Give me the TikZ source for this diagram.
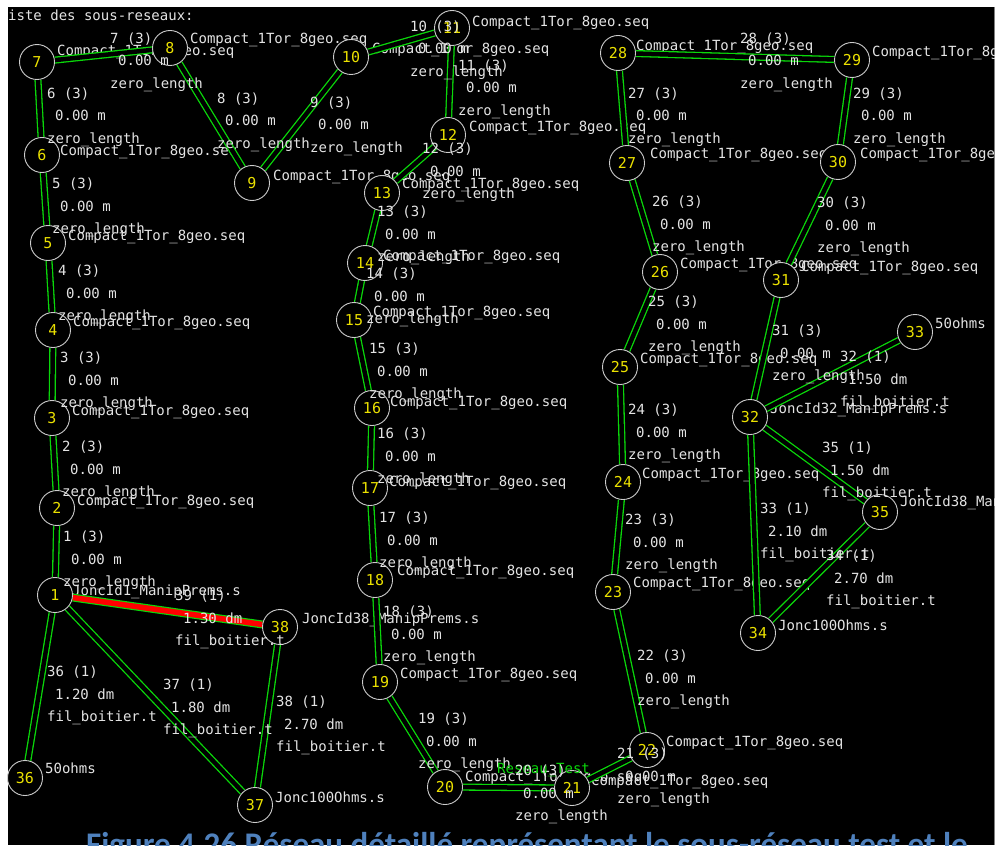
\documentclass[tikz,border=0pt]{standalone}
\usepackage{fontspec}
\usetikzlibrary{calc}
\newfontfamily\monof{DejaVu Sans Mono}
\newfontfamily\capf{Carlito}
\definecolor{wg}{RGB}{10,215,10}
\definecolor{labgray}{RGB}{228,228,228}
\definecolor{nodegray}{RGB}{205,205,205}
\definecolor{nodeyellow}{RGB}{235,225,0}
\definecolor{capblue}{RGB}{79,129,189}
\pgfdeclarelayer{bg}
\pgfdeclarelayer{nlab}
\pgfdeclarelayer{wires}
\pgfsetlayers{bg,nlab,wires,main}
\newcommand{\cseq}{Compact\_1Tor\_8geo.seq}
\newcommand{\elab}[6]{%
  \node[lab] (#1a) at (#2,#3) {#4};
  \node[lab] (#1b) at ($(#2,#3)+(8,22.5)$) {#5};
  \node[lab] (#1c) at ($(#2,#3)+(0,45)$) {#6};}
\newcommand{\ezl}[4]{\elab{#1}{#2}{#3}{#4 (3)}{0.00 m}{zero\_length}}
\newcommand{\efb}[5]{\elab{#1}{#2}{#3}{#4 (1)}{#5 dm}{fil\_boitier.t}}
\begin{document}
\begin{tikzpicture}[x=1pt,y=-1pt,
  nd/.style={circle, draw=nodegray, line width=0.9pt, fill=black, minimum size=35pt, inner sep=0pt,
     text=nodeyellow, font=\monof\fontsize{15}{15}\selectfont},
  lab/.style={anchor=west, inner sep=0pt, text=labgray, font=\monof\fontsize{14}{14}\selectfont,
     text height=10pt, text depth=3pt},
  wire/.style={draw=wg, line width=1.3pt, double=black, double distance=4.5pt},
  redwire/.style={draw=wg, line width=1.2pt, double=red, double distance=5.5pt}]
\useasboundingbox (0,0) rectangle (1000,845);
\clip (0,0) rectangle (1000,845);
\begin{pgfonlayer}{bg}
\fill[white] (0,0) rectangle (1000,845);
\fill[black] (8,7) rectangle (994,845);
\draw[gray, line width=1.2pt] (994.5,7) -- (994.5,845);
\end{pgfonlayer}

% nodes
\node[nd] (n1) at (55,595) {1};
\node[nd] (n2) at (57,508) {2};
\node[nd] (n3) at (52,418) {3};
\node[nd] (n4) at (53,330) {4};
\node[nd] (n5) at (48,243) {5};
\node[nd] (n6) at (42,155) {6};
\node[nd] (n7) at (37,62) {7};
\node[nd] (n8) at (170,48) {8};
\node[nd] (n9) at (252,183) {9};
\node[nd] (n10) at (351,57) {10};
\node[nd] (n11) at (452,28) {11};
\node[nd] (n12) at (448,135) {12};
\node[nd] (n13) at (382,193) {13};
\node[nd] (n14) at (365,263) {14};
\node[nd] (n15) at (354,320) {15};
\node[nd] (n16) at (372,408) {16};
\node[nd] (n17) at (370,488) {17};
\node[nd] (n18) at (375,580) {18};
\node[nd] (n19) at (380,682) {19};
\node[nd] (n20) at (445,787) {20};
\node[nd] (n21) at (572,788) {21};
\node[nd] (n22) at (647,750) {22};
\node[nd] (n23) at (613,592) {23};
\node[nd] (n24) at (623,482) {24};
\node[nd] (n25) at (620,367) {25};
\node[nd] (n26) at (660,272) {26};
\node[nd] (n27) at (627,163) {27};
\node[nd] (n28) at (618,53) {28};
\node[nd] (n29) at (852,60) {29};
\node[nd] (n30) at (838,162) {30};
\node[nd] (n31) at (781,280) {31};
\node[nd] (n32) at (750,417) {32};
\node[nd] (n33) at (915,332) {33};
\node[nd] (n34) at (758,633) {34};
\node[nd] (n35) at (880,512) {35};
\node[nd] (n36) at (25,778) {36};
\node[nd] (n37) at (255,805) {37};
\node[nd] (n38) at (280,627) {38};

% node labels (under wires and nodes)
\begin{pgfonlayer}{nlab}
\begin{scope}
\clip (8,7) rectangle (994,845);
\node[lab] (t1) at (72,592) {JoncId1\_ManipPrems.s};
\node[lab] (t2) at (77,502) {\cseq};
\node[lab] (t3) at (72,412) {\cseq};
\node[lab] (t4) at (73,323) {\cseq};
\node[lab] (t5) at (68,237) {\cseq};
\node[lab] (t6) at (60,152) {\cseq};
\node[lab] (t7) at (57,52) {\cseq};
\node[lab] (t8) at (190,40) {\cseq};
\node[lab] (t9) at (273,177) {\cseq};
\node[lab] (t10) at (372,50) {\cseq};
\node[lab] (t11) at (472,23) {\cseq};
\node[lab] (t12) at (469,128) {\cseq};
\node[lab] (t13) at (402,185) {\cseq};
\node[lab] (t14) at (383,257) {\cseq};
\node[lab] (t15) at (373,313) {\cseq};
\node[lab] (t16) at (390,403) {\cseq};
\node[lab] (t17) at (389,483) {\cseq};
\node[lab] (t18) at (397,572) {\cseq};
\node[lab] (t19) at (400,675) {\cseq};
\node[lab] (t20) at (465,778) {\cseq};
\node[lab] (t21) at (591,782) {\cseq};
\node[lab] (t22) at (666,743) {\cseq};
\node[lab] (t23) at (633,584) {\cseq};
\node[lab] (t24) at (642,475) {\cseq};
\node[lab] (t25) at (640,360) {\cseq};
\node[lab] (t26) at (680,265) {\cseq};
\node[lab] (t27) at (650,155) {\cseq};
\node[lab] (t28) at (636,47) {\cseq};
\node[lab] (t29) at (872,53) {\cseq};
\node[lab] (t30) at (860,155) {\cseq};
\node[lab] (t31) at (801,268) {\cseq};
\node[lab] (t32) at (770,410) {JoncId32\_ManipPrems.s};
\node[lab] (t33) at (935,325) {50ohms};
\node[lab] (t34) at (778,627) {Jonc100Ohms.s};
\node[lab] (t35) at (900,503) {JoncId38\_ManipPrems.s};
\node[lab] (t36) at (45,770) {50ohms};
\node[lab] (t37) at (275,799) {Jonc100Ohms.s};
\node[lab] (t38) at (302,620) {JoncId38\_ManipPrems.s};
\end{scope}
\end{pgfonlayer}

% wires
\begin{pgfonlayer}{wires}
\draw[wire] (n2) -- (n1);
\draw[wire] (n3) -- (n2);
\draw[wire] (n4) -- (n3);
\draw[wire] (n5) -- (n4);
\draw[wire] (n6) -- (n5);
\draw[wire] (n7) -- (n6);
\draw[wire] (n7) -- (n8);
\draw[wire] (n8) -- (n9);
\draw[wire] (n9) -- (n10);
\draw[wire] (n10) -- (n11);
\draw[wire] (n11) -- (n12);
\draw[wire] (n12) -- (n13);
\draw[wire] (n13) -- (n14);
\draw[wire] (n14) -- (n15);
\draw[wire] (n15) -- (n16);
\draw[wire] (n16) -- (n17);
\draw[wire] (n17) -- (n18);
\draw[wire] (n18) -- (n19);
\draw[wire] (n19) -- (n20);
\draw[wire] (n20) -- (n21);
\draw[wire] (n21) -- (n22);
\draw[wire] (n22) -- (n23);
\draw[wire] (n23) -- (n24);
\draw[wire] (n24) -- (n25);
\draw[wire] (n25) -- (n26);
\draw[wire] (n26) -- (n27);
\draw[wire] (n27) -- (n28);
\draw[wire] (n28) -- (n29);
\draw[wire] (n29) -- (n30);
\draw[wire] (n30) -- (n31);
\draw[wire] (n31) -- (n32);
\draw[wire] (n32) -- (n33);
\draw[wire] (n32) -- (n35);
\draw[wire] (n32) -- (n34);
\draw[wire] (n35) -- (n34);
\draw[wire] (n1) -- (n36);
\draw[wire] (n1) -- (n37);
\draw[wire] (n38) -- (n37);
\draw[redwire] (n1) -- (n38);
\end{pgfonlayer}

% header text
\node[lab] (hdr) at (8,17) {iste des sous-reseaux:};

% edge labels
\ezl{e1}{63}{538}{1}
\ezl{e2}{62}{448}{2}
\ezl{e3}{60}{359}{3}
\ezl{e4}{58}{272}{4}
\ezl{e5}{52}{185}{5}
\ezl{e6}{47}{95}{6}
\ezl{e7}{110}{40}{7}
\ezl{e8}{217}{100}{8}
\ezl{e9}{310}{104}{9}
\ezl{e10}{410}{28}{10}
\ezl{e11}{458}{67}{11}
\ezl{e12}{422}{150}{12}
\ezl{e13}{377}{213}{13}
\ezl{e14}{366}{275}{14}
\ezl{e15}{369}{350}{15}
\ezl{e16}{377}{435}{16}
\ezl{e17}{379}{519}{17}
\ezl{e18}{383}{613}{18}
\ezl{e19}{418}{720}{19}
\node[lab, text=wg] (rt) at (497,770) {Reseau\_Test};
\ezl{e20}{515}{772}{20}
\ezl{e21}{617}{755}{21}
\ezl{e22}{637}{657}{22}
\ezl{e23}{625}{521}{23}
\ezl{e24}{628}{411}{24}
\ezl{e25}{648}{303}{25}
\ezl{e26}{652}{203}{26}
\ezl{e27}{628}{95}{27}
\ezl{e28}{740}{40}{28}
\ezl{e29}{853}{95}{29}
\ezl{e30}{817}{204}{30}
\ezl{e31}{772}{332}{31}
\efb{e32}{840}{358}{32}{1.50}
\efb{e35}{822}{449}{35}{1.50}
\efb{e33}{760}{510}{33}{2.10}
\efb{e34}{826}{557}{34}{2.70}
\efb{e36}{47}{673}{36}{1.20}
\efb{e37}{163}{686}{37}{1.80}
\efb{e38}{276}{703}{38}{2.70}
\efb{e39}{175}{597}{39}{1.30}

% caption (cut by the page edge)
\node[anchor=base west, inner sep=0pt, text=capblue, font=\capf\bfseries\fontsize{33}{35}\selectfont]
  (cap) at (86,855) {Figure 4.26 Réseau détaillé représentant le sous-réseau test et le};
\end{tikzpicture}
\end{document}
